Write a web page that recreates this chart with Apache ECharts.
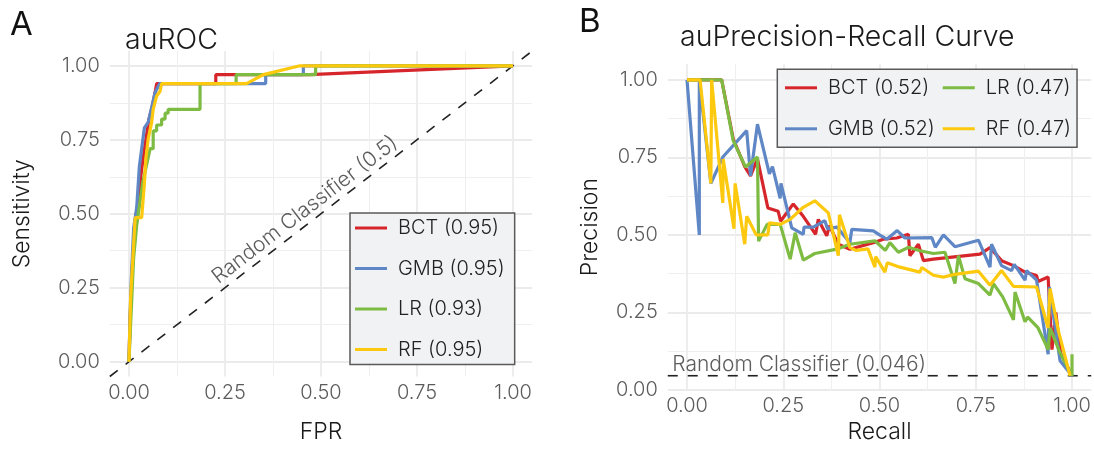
<!DOCTYPE html>
<html><head><meta charset="utf-8">
<script src="https://cdn.jsdelivr.net/npm/echarts@6/dist/echarts.min.js"></script>
<style>html,body{margin:0;padding:0;background:#fff}#c{width:1094px;height:449px}</style>
</head><body><div id="c"></div>
<script>
const models = ['BCT', 'GMB', 'LR', 'RF'];
const colors = ['#d7262b', '#5f87c6', '#7dbb42', '#fcc90e'];
const rocAUC = ['0.95', '0.95', '0.93', '0.95'];
const prAUC = ['0.52', '0.52', '0.47', '0.47'];
const majorTicks = [0, 0.25, 0.5, 0.75, 1];
const minorTicks = [0.125, 0.375, 0.625, 0.875];

const rocBCT = [[0,0],[0.003,0.15],[0.008,0.3],[0.015,0.47],[0.025,0.55],[0.03,0.62],[0.038,0.7],[0.045,0.76],[0.052,0.82],[0.06,0.86],[0.068,0.91],[0.072,0.94],[0.226,0.94],[0.226,0.97],[0.47,0.97],[1,1]];
const rocGMB = [[0,0],[0.002,0.12],[0.006,0.28],[0.012,0.45],[0.02,0.52],[0.027,0.66],[0.04,0.79],[0.05,0.81],[0.06,0.865],[0.068,0.91],[0.08,0.94],[0.356,0.94],[0.356,0.97],[0.454,0.97],[0.454,1],[1,1]];
const rocLR = [[0,0],[0.005,0.15],[0.012,0.35],[0.02,0.46],[0.035,0.6],[0.05,0.69],[0.055,0.72],[0.063,0.72],[0.063,0.78],[0.072,0.78],[0.072,0.8],[0.085,0.8],[0.085,0.82],[0.094,0.82],[0.094,0.84],[0.102,0.84],[0.102,0.853],[0.185,0.853],[0.185,0.94],[0.279,0.94],[0.279,0.97],[0.486,0.97],[0.486,1],[1,1]];
const rocRF = [[0,0],[0.004,0.21],[0.01,0.35],[0.016,0.487],[0.033,0.487],[0.04,0.6],[0.044,0.687],[0.05,0.753],[0.059,0.809],[0.063,0.853],[0.072,0.898],[0.081,0.914],[0.085,0.94],[0.306,0.94],[0.35,0.97],[0.445,1],[1,1]];

const prBCT = [[0,1],[0.032,1],[0.062,1],[0.09,1],[0.12,0.81],[0.15,0.72],[0.165,0.69],[0.183,0.745],[0.21,0.587],[0.237,0.576],[0.243,0.544],[0.276,0.6],[0.302,0.56],[0.334,0.502],[0.341,0.55],[0.363,0.497],[0.37,0.53],[0.393,0.47],[0.423,0.454],[0.484,0.475],[0.51,0.486],[0.545,0.49],[0.575,0.502],[0.579,0.433],[0.601,0.47],[0.614,0.417],[0.64,0.422],[0.761,0.438],[0.787,0.459],[0.817,0.417],[0.848,0.401],[0.878,0.38],[0.908,0.369],[0.912,0.35],[0.938,0.364],[0.948,0.13],[0.958,0.25],[0.97,0.12],[1,0.046]];
const prGMB = [[0,1],[0.032,0.5],[0.032,1],[0.062,0.666],[0.093,0.751],[0.155,0.836],[0.165,0.69],[0.183,0.857],[0.214,0.697],[0.222,0.72],[0.242,0.618],[0.244,0.666],[0.272,0.523],[0.302,0.502],[0.304,0.525],[0.328,0.525],[0.358,0.546],[0.365,0.52],[0.39,0.525],[0.423,0.475],[0.428,0.518],[0.484,0.513],[0.5,0.5],[0.519,0.486],[0.546,0.514],[0.566,0.49],[0.636,0.491],[0.645,0.46],[0.666,0.5],[0.696,0.462],[0.757,0.483],[0.787,0.396],[0.791,0.47],[0.817,0.401],[0.843,0.385],[0.85,0.405],[0.878,0.354],[0.882,0.385],[0.908,0.354],[0.938,0.115],[0.941,0.332],[0.969,0.094],[1,0.046]];
const prLR = [[0,1],[0.032,1],[0.062,1],[0.09,1],[0.12,0.804],[0.152,0.719],[0.183,0.751],[0.186,0.48],[0.208,0.534],[0.242,0.534],[0.268,0.422],[0.281,0.507],[0.302,0.419],[0.332,0.44],[0.389,0.454],[0.423,0.47],[0.488,0.481],[0.515,0.45],[0.527,0.475],[0.549,0.444],[0.575,0.46],[0.605,0.449],[0.64,0.44],[0.67,0.444],[0.696,0.343],[0.705,0.433],[0.722,0.359],[0.757,0.343],[0.787,0.306],[0.796,0.343],[0.82,0.3],[0.848,0.226],[0.852,0.316],[0.878,0.22],[0.885,0.235],[0.912,0.2],[0.938,0.13],[0.943,0.2],[0.969,0.12],[1,0.046],[1,0.115]];
const prRF = [[0,1],[0.034,1],[0.062,0.666],[0.064,1],[0.093,0.603],[0.094,0.745],[0.122,0.52],[0.125,0.666],[0.15,0.47],[0.155,0.56],[0.18,0.5],[0.21,0.5],[0.214,0.539],[0.242,0.534],[0.268,0.55],[0.302,0.589],[0.332,0.61],[0.367,0.571],[0.393,0.433],[0.396,0.565],[0.423,0.459],[0.44,0.45],[0.47,0.455],[0.488,0.396],[0.49,0.43],[0.514,0.38],[0.52,0.41],[0.553,0.396],[0.605,0.38],[0.61,0.395],[0.64,0.37],[0.666,0.364],[0.696,0.373],[0.757,0.383],[0.787,0.338],[0.817,0.385],[0.848,0.334],[0.908,0.332],[0.938,0.2],[0.943,0.327],[0.965,0.189],[0.995,0.046]];

const randomROC = [[-0.05,-0.05],[1.05,1.05]];
const randomPRValue = 0.046;
const randomPR = [[-0.05, randomPRValue],[1.05, randomPRValue]];
const rocLabelPos = [0.458, 0.513];
const prLabelPos = [-0.037, randomPRValue];

const rocData = [rocBCT, rocGMB, rocLR, rocRF];
const prData = [prBCT, prGMB, prLR, prRF];

const FONT = 'Inter, "Noto Sans", sans-serif';
const W = 300;
const TICK = '#5c5c5c';
const fmt = v => v.toFixed(2);

function majorAxis(grid, min, max, name, gap, margin) {
  return {
    type: 'value', gridIndex: grid, min, max,
    name, nameLocation: 'middle', nameGap: gap,
    nameTextStyle: { fontFamily: FONT, fontWeight: W, fontSize: 23, color: '#1a1a1a' },
    axisLine: { show: false },
    axisTick: { show: false, customValues: majorTicks },
    axisLabel: { customValues: majorTicks, formatter: fmt, color: TICK, fontFamily: FONT, fontWeight: W, fontSize: 20, margin },
    splitLine: { show: true, lineStyle: { color: '#ebebeb', width: 1.8 } }
  };
}
function minorAxis(grid, min, max) {
  return {
    type: 'value', gridIndex: grid, min, max,
    axisLine: { show: false },
    axisTick: { show: false, customValues: minorTicks },
    axisLabel: { show: false },
    splitLine: { show: true, lineStyle: { color: '#efefef', width: 1.1 } }
  };
}

const series = [];
series.push({ type: 'line', xAxisIndex: 0, yAxisIndex: 0, data: randomROC, symbol: 'none', silent: true,
  lineStyle: { color: '#222', width: 1.6, type: [10, 10] }, z: 1 });
series.push({ type: 'line', xAxisIndex: 2, yAxisIndex: 2, data: randomPR, symbol: 'none', silent: true,
  lineStyle: { color: '#222', width: 1.6, type: [10, 10] }, z: 1 });
models.forEach((m, i) => {
  series.push({ name: m + ' (' + rocAUC[i] + ')', type: 'line', xAxisIndex: 0, yAxisIndex: 0,
    data: rocData[i], symbol: 'none', color: colors[i], lineStyle: { width: 3.2, color: colors[i] } });
});
models.forEach((m, i) => {
  series.push({ name: m + ' (' + prAUC[i] + ')', type: 'line', xAxisIndex: 2, yAxisIndex: 2,
    data: prData[i], symbol: 'none', color: colors[i], lineStyle: { width: 3.2, color: colors[i] } });
});
series.push({ type: 'scatter', xAxisIndex: 0, yAxisIndex: 0, data: [rocLabelPos], symbolSize: 1, silent: true,
  itemStyle: { color: 'rgba(0,0,0,0)' }, z: 1,
  label: { show: true, position: 'inside', rotate: 37.5, formatter: 'Random Classifier (0.5)', color: '#333', fontFamily: FONT, fontWeight: W, fontSize: 21 } });
series.push({ type: 'scatter', xAxisIndex: 2, yAxisIndex: 2, data: [prLabelPos], symbolSize: 1, silent: true,
  itemStyle: { color: 'rgba(0,0,0,0)' }, z: 1,
  label: { show: true, position: [0, 0], align: 'left', verticalAlign: 'bottom', formatter: 'Random Classifier (0.046)', color: '#333', fontFamily: FONT, fontWeight: W, fontSize: 21 } });

const legendText = { fontFamily: FONT, fontWeight: W, fontSize: 20, color: '#222', padding: [0, 0, 0, 6] };
const option = {
  animation: false,
  backgroundColor: '#fff',
  grid: [
    { left: 109.8, top: 51, width: 422.4, height: 330 },
    { left: 667.75, top: 64.3, width: 423.5, height: 330.2 }
  ],
  xAxis: [
    majorAxis(0, -0.05, 1.05, 'FPR', 44.5, 6), minorAxis(0, -0.05, 1.05),
    majorAxis(1, -0.05, 1.05, 'Recall', 31, 5.5), minorAxis(1, -0.05, 1.05)
  ],
  yAxis: [
    majorAxis(0, -0.05, 1.05, 'Sensitivity', 76, 10), minorAxis(0, -0.05, 1.05),
    majorAxis(1, 0, 1.05, 'Precision', 66, 10), minorAxis(1, 0, 1.05)
  ],
  legend: [
    { data: models.map((m, i) => m + ' (' + rocAUC[i] + ')'), orient: 'vertical', left: 350, top: 213,
      padding: [5, 10, 5, 5], itemGap: 20.5, itemWidth: 32, itemHeight: 3, icon: 'rect', selectedMode: false,
      backgroundColor: '#f1f2f4', borderColor: '#5a5a5a', borderWidth: 1.5,
      textStyle: Object.assign({ lineHeight: 20 }, legendText) },
    { data: models.map((m, i) => m + ' (' + prAUC[i] + ')'), orient: 'vertical', left: 777.3, top: 69.3, height: 85,
      padding: [2, 6, 2, 7.7], itemGap: 8, itemWidth: 32, itemHeight: 3, icon: 'rect', selectedMode: false,
      backgroundColor: '#f1f2f4', borderColor: '#5a5a5a', borderWidth: 1.5,
      textStyle: Object.assign({ lineHeight: 33 }, legendText) }
  ],
  graphic: [
    { type: 'text', x: 10, y: 25, style: { text: 'A', fontFamily: FONT, fontWeight: 400, fontSize: 33, fill: '#111', verticalAlign: 'middle' } },
    { type: 'text', x: 579, y: 22, style: { text: 'B', fontFamily: FONT, fontWeight: 400, fontSize: 33, fill: '#111', verticalAlign: 'middle' } },
    { type: 'text', x: 125, y: 40, style: { text: 'auROC', fontFamily: FONT, fontWeight: W, fontSize: 28.5, fill: '#1a1a1a', verticalAlign: 'middle' } },
    { type: 'text', x: 680, y: 37, style: { text: 'auPrecision-Recall Curve', fontFamily: FONT, fontWeight: W, fontSize: 28.5, fill: '#1a1a1a', verticalAlign: 'middle' } }
  ],
  series
};
const chart = echarts.init(document.getElementById('c'), null, { renderer: 'canvas' });
chart.setOption(option);
</script></body></html>
